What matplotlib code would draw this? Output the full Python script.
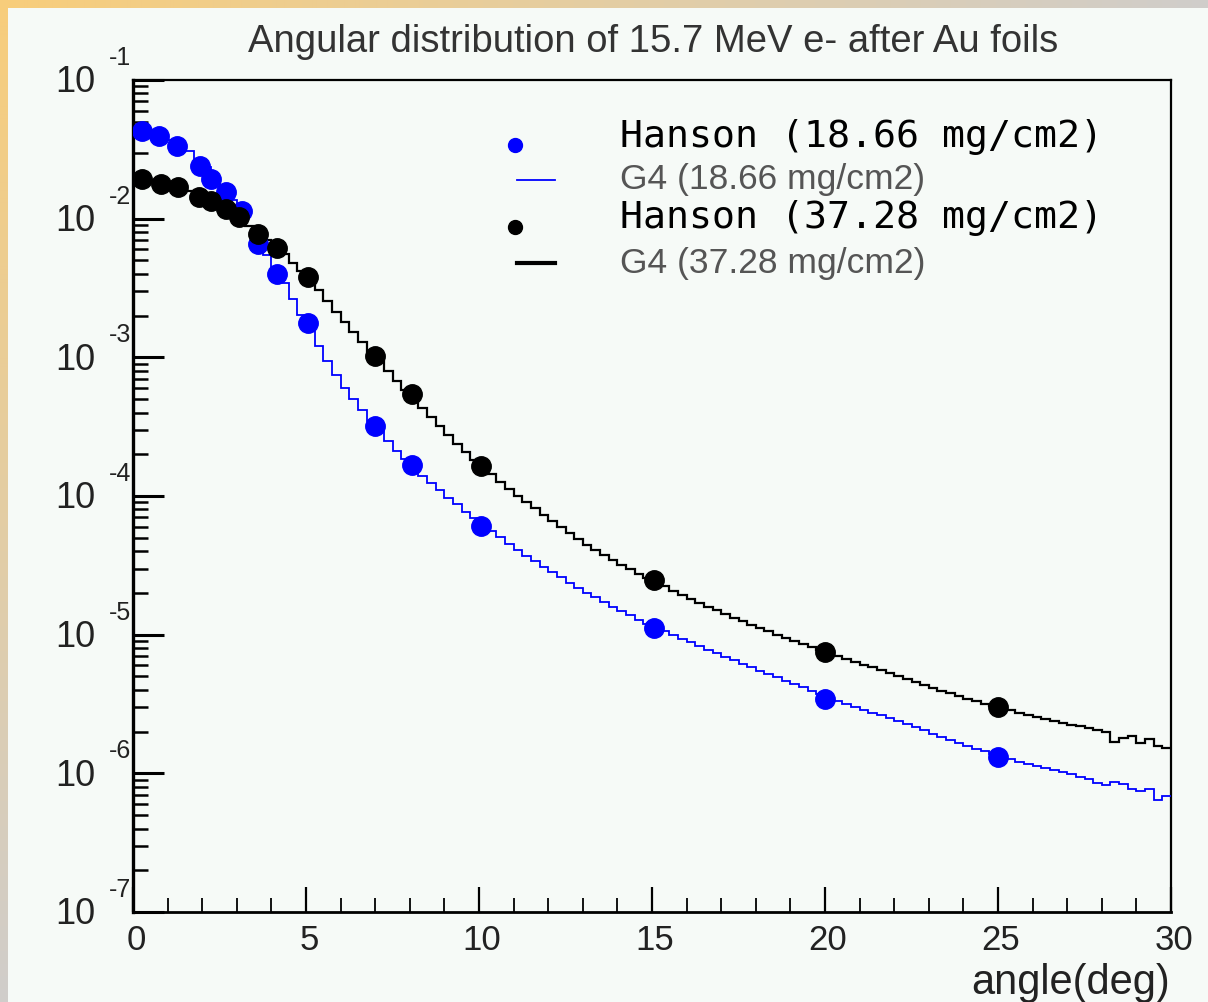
import numpy as np
import matplotlib
matplotlib.use("Agg")
import matplotlib.pyplot as plt
from matplotlib import transforms as mtrans

# ---------------- data ----------------
bin_width_deg = 0.25

g4_thin = [4.36e-2, 4.29e-2, 4.15e-2, 3.94e-2, 3.69e-2, 3.40e-2, 3.08e-2, 2.69e-2, 2.36e-2, 2.00e-2,
           1.64e-2, 1.36e-2, 1.12e-2, 8.85e-3, 6.79e-3, 5.47e-3, 4.49e-3, 3.44e-3, 2.64e-3, 2.02e-3,
           1.55e-3, 1.21e-3, 9.42e-4, 7.46e-4, 6.01e-4, 5.01e-4, 4.17e-4, 3.48e-4, 2.94e-4, 2.49e-4,
           2.11e-4, 1.85e-4, 1.59e-4, 1.39e-4, 1.24e-4, 1.11e-4, 9.68e-5, 8.77e-5, 7.67e-5, 6.95e-5,
           6.18e-5, 5.60e-5, 5.07e-5, 4.51e-5, 4.08e-5, 3.70e-5, 3.40e-5, 3.08e-5, 2.83e-5, 2.61e-5,
           2.36e-5, 2.17e-5, 2.00e-5, 1.87e-5, 1.72e-5, 1.58e-5, 1.48e-5, 1.39e-5, 1.28e-5, 1.19e-5,
           1.12e-5, 1.06e-5, 9.95e-6, 9.31e-6, 8.85e-6, 8.30e-6, 7.76e-6, 7.38e-6, 6.90e-6, 6.58e-6,
           6.15e-6, 5.85e-6, 5.47e-6, 5.21e-6, 4.95e-6, 4.63e-6, 4.42e-6, 4.20e-6, 3.93e-6, 3.73e-6,
           3.50e-6, 3.33e-6, 3.16e-6, 3.01e-6, 2.86e-6, 2.72e-6, 2.64e-6, 2.51e-6, 2.39e-6, 2.27e-6,
           2.16e-6, 2.06e-6, 1.92e-6, 1.83e-6, 1.74e-6, 1.66e-6, 1.58e-6, 1.50e-6, 1.45e-6, 1.38e-6,
           1.31e-6, 1.27e-6, 1.21e-6, 1.17e-6, 1.13e-6, 1.09e-6, 1.06e-6, 1.02e-6, 9.91e-7, 9.42e-7,
           9.12e-7, 8.53e-7, 8.24e-7, 8.67e-7, 8.39e-7, 7.73e-7, 7.46e-7, 7.73e-7, 6.43e-7, 6.87e-7]

g4_thick = [2.00e-2, 1.96e-2, 1.90e-2, 1.81e-2, 1.72e-2, 1.66e-2, 1.58e-2, 1.48e-2, 1.39e-2, 1.30e-2,
            1.21e-2, 1.12e-2, 1.01e-2, 8.85e-3, 7.76e-3, 7.01e-3, 6.35e-3, 5.56e-3, 4.79e-3, 4.20e-3,
            3.61e-3, 3.06e-3, 2.55e-3, 2.12e-3, 1.80e-3, 1.52e-3, 1.29e-3, 1.09e-3, 9.42e-4, 7.98e-4,
            6.75e-4, 5.82e-4, 5.01e-4, 4.32e-4, 3.72e-4, 3.20e-4, 2.75e-4, 2.37e-4, 2.07e-4, 1.82e-4,
            1.62e-4, 1.44e-4, 1.26e-4, 1.12e-4, 1.00e-4, 9.06e-5, 8.20e-5, 7.29e-5, 6.61e-5, 5.98e-5,
            5.41e-5, 4.90e-5, 4.44e-5, 4.08e-5, 3.76e-5, 3.46e-5, 3.18e-5, 2.98e-5, 2.74e-5, 2.56e-5,
            2.40e-5, 2.24e-5, 2.07e-5, 1.93e-5, 1.81e-5, 1.69e-5, 1.58e-5, 1.51e-5, 1.41e-5, 1.32e-5,
            1.26e-5, 1.17e-5, 1.12e-5, 1.06e-5, 9.95e-6, 9.46e-6, 9.02e-6, 8.57e-6, 8.15e-6, 7.76e-6,
            7.38e-6, 7.01e-6, 6.68e-6, 6.35e-6, 6.05e-6, 5.85e-6, 5.57e-6, 5.30e-6, 5.04e-6, 4.80e-6,
            4.56e-6, 4.34e-6, 4.13e-6, 3.93e-6, 3.80e-6, 3.61e-6, 3.44e-6, 3.33e-6, 3.16e-6, 3.06e-6,
            2.96e-6, 2.86e-6, 2.72e-6, 2.64e-6, 2.55e-6, 2.47e-6, 2.39e-6, 2.31e-6, 2.23e-6, 2.19e-6,
            2.12e-6, 2.06e-6, 1.99e-6, 1.68e-6, 1.80e-6, 1.86e-6, 1.66e-6, 1.77e-6, 1.58e-6, 1.52e-6]

hanson_thin_angle = [0.27, 0.75, 1.28, 1.95, 2.25, 2.68, 3.15, 3.6, 4.15, 5.05, 7.0, 8.05, 10.05, 15.05, 20.0, 25.0]
hanson_thin_value = [4.28e-2, 3.95e-2, 3.34e-2, 2.40e-2, 1.93e-2, 1.56e-2, 1.13e-2, 6.57e-3, 3.99e-3,
                     1.77e-3, 3.20e-4, 1.68e-4, 6.08e-5, 1.12e-5, 3.44e-6, 1.31e-6]

hanson_thick_angle = [0.27, 0.8, 1.3, 1.9, 2.25, 2.68, 3.05, 3.6, 4.15, 5.05, 7.0, 8.05, 10.05, 15.05, 20.0, 25.0]
hanson_thick_value = [1.93e-2, 1.78e-2, 1.69e-2, 1.43e-2, 1.34e-2, 1.17e-2, 1.03e-2, 7.75e-3, 6.15e-3,
                      3.79e-3, 1.02e-3, 5.44e-4, 1.64e-4, 2.48e-5, 7.5e-6, 3.0e-6]

labels = ["Hanson (18.66 mg/cm2)", "G4 (18.66 mg/cm2)", "Hanson (37.28 mg/cm2)", "G4 (37.28 mg/cm2)"]
title = "Angular distribution of 15.7 MeV e- after Au foils"
x_label = "angle(deg)"
x_ticks = [0, 5, 10, 15, 20, 25, 30]
y_exponents = [-1, -2, -3, -4, -5, -6, -7]

# ---------------- figure ----------------
W, H, DPI = 1208, 1003, 100
BG = "#f6faf7"
fig = plt.figure(figsize=(W / DPI, H / DPI), dpi=DPI, facecolor=BG)

# gradient frame (top and left strips)
bgax = fig.add_axes([0, 0, 1, 1], zorder=-10)
bgax.set_axis_off()
img = np.ones((H, W, 3)) * np.array(matplotlib.colors.to_rgb(BG))
orange = np.array(matplotlib.colors.to_rgb("#f8cd7b"))
grey = np.array(matplotlib.colors.to_rgb("#d0cdcb"))
t = np.linspace(0, 1, W)[:, None]
img[:9, :, :] = (orange * (1 - t) + grey * t)[None, :, :]
s = np.linspace(0, 1, H)[:, None]
img[:, :8, :] = (orange * (1 - s) + grey * s)[:, None, :]
bgax.imshow(img, aspect="auto", extent=[0, 1, 0, 1], interpolation="bilinear")
bgax.set_xlim(0, 1)
bgax.set_ylim(0, 1)

L, R, T, B = 133, 1171, 81, 913
ax = fig.add_axes([L / W, 1 - B / H, (R - L) / W, (B - T) / H])
ax.set_facecolor(BG)
ax.set_yscale("log")
ax.set_xlim(0, 30)
ax.set_ylim(1e-7, 1e-1)

edges_thin = np.arange(len(g4_thin) + 1) * bin_width_deg
edges_thick = np.arange(len(g4_thick) + 1) * bin_width_deg

ax.stairs(g4_thin, edges_thin, color="#0000ff", lw=1.3, baseline=None, zorder=3)
ax.stairs(g4_thick, edges_thick, color="black", lw=1.6, baseline=None, zorder=3)
ax.plot(hanson_thin_angle, hanson_thin_value, ls="none", marker="o", ms=14,
        color="#0000ff", mec="#0000ff", zorder=4)
ax.plot(hanson_thick_angle, hanson_thick_value, ls="none", marker="o", ms=14,
        color="black", mec="black", zorder=4)

# spines / ticks (ROOT style: inward, left and bottom only)
for sp in ax.spines.values():
    sp.set_linewidth(1.6)
ax.spines["left"].set_linewidth(2.4)
ax.spines["bottom"].set_linewidth(2.0)
ax.tick_params(which="both", direction="in", right=False, top=False,
               labelleft=False, labelbottom=False, color="black")
ax.tick_params(axis="y", which="major", length=22, width=2.2)
ax.tick_params(axis="y", which="minor", length=11, width=1.8)
ax.set_xticks(x_ticks)
ax.xaxis.set_minor_locator(matplotlib.ticker.MultipleLocator(1))
ax.tick_params(axis="x", which="major", length=18, width=1.6)
ax.tick_params(axis="x", which="minor", length=10, width=1.3)
ax.yaxis.set_minor_locator(matplotlib.ticker.LogLocator(base=10, subs=np.arange(2, 10)))

FONT = "Liberation Sans"
label_color = "#222222"
ytr = ax.get_yaxis_transform()
for e in y_exponents:
    base = mtrans.offset_copy(ytr, fig=fig, x=-38, y=-2, units="dots")
    ax.text(0, 10.0 ** e, "10", transform=base, ha="right", va="center",
            fontsize=26, family=FONT, color=label_color, clip_on=False)
    exp_tr = mtrans.offset_copy(ytr, fig=fig, x=-2, y=23, units="dots")
    ax.text(0, 10.0 ** e, "%d" % e, transform=exp_tr, ha="right", va="center",
            fontsize=18, family=FONT, color=label_color, clip_on=False)

xtr = ax.get_xaxis_transform()
for xv in x_ticks:
    tr = mtrans.offset_copy(xtr, fig=fig, x=3, y=-28, units="dots")
    ax.text(xv, 0, str(xv), transform=tr, ha="center", va="center",
            fontsize=25, family=FONT, color=label_color, clip_on=False)

fig.text(1170 / W, 1 - 983 / H, x_label, ha="right", va="center",
         fontsize=30, family=FONT, color=label_color)
fig.text(653 / W, 1 - 42 / H, title, ha="center", va="center",
         fontsize=27.5, family=FONT, color="#333333")

# legend (drawn manually in figure pixels)
def fx(px):
    return px / W

def fy(py):
    return 1 - py / H

legend_items = [
    ("marker", "#0000ff", 146, labels[0], 137),
    ("line_thin", "#0000ff", 181, labels[1], 180),
    ("marker", "black", 228, labels[2], 218),
    ("line_thick", "black", 264, labels[3], 264),
]
for kind, col, ym, text, yt in legend_items:
    if kind == "marker":
        fig.add_artist(matplotlib.lines.Line2D([fx(515)], [fy(ym)], marker="o", ms=10,
                                               color=col, mec=col, ls="none"))
        fig.text(fx(620), fy(yt), text, ha="left", va="center", fontsize=27.5,
                 family="DejaVu Sans Mono", color="black")
    else:
        lw = 1.3 if kind == "line_thin" else 3.0
        fig.add_artist(matplotlib.lines.Line2D([fx(517), fx(555)], [fy(ym), fy(ym)],
                                               color=col, lw=lw))
        fig.text(fx(620), fy(yt), text, ha="left", va="center", fontsize=25.5,
                 family=FONT, color="#555555")

fig.savefig("out.png", dpi=DPI, facecolor=BG)
